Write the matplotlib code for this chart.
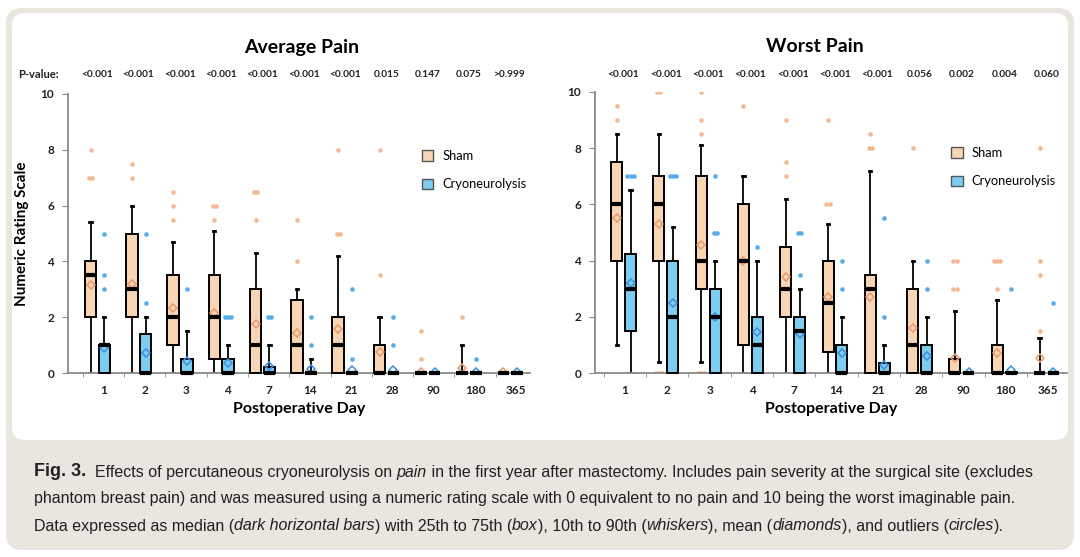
import numpy as np
import matplotlib.pyplot as plt
from matplotlib.patches import FancyBboxPatch, Patch

# =========================
# DATA
# =========================
days = ["1", "2", "3", "4", "7", "14", "21", "28", "90", "180", "365"]

# Average pain - sham
avg_sham_lo = [0, 0, 0, 0, 0, 0, 0, 0, 0, 0, 0]
avg_sham_q1 = [2, 2, 1, 0.5, 0, 0, 0, 0, 0, 0, 0]
avg_sham_med = [3.5, 3, 2, 2, 1, 1, 1, 0, 0, 0, 0]
avg_sham_q3 = [4, 5, 3.5, 3.5, 3, 2.62, 2, 1, 0, 0, 0]
avg_sham_hi = [5.4, 6, 4.7, 5.1, 4.3, 3, 4.2, 2, 0, 1, 0]
avg_sham_mean = [3.15, 3.2, 2.33, 2.15, 1.75, 1.42, 1.56, 0.77, 0.05, 0.18, 0.02]
avg_sham_out = [[8, 7, 7], [7.5, 7], [6.5, 6, 5.5], [6, 6, 5.5], [6.5, 6.5, 5.5],
                [5.5, 4], [8, 5, 5], [8, 3.5], [1.5, 0.5], [2], []]

# Average pain - cryoneurolysis
avg_cryo_lo = [0, 0, 0, 0, 0, 0, 0, 0, 0, 0, 0]
avg_cryo_q1 = [0, 0, 0, 0, 0, 0, 0, 0, 0, 0, 0]
avg_cryo_med = [1, 0, 0, 0, 0, 0, 0, 0, 0, 0, 0]
avg_cryo_q3 = [1, 1.38, 0.5, 0.5, 0.22, 0, 0, 0, 0, 0, 0]
avg_cryo_hi = [2, 2, 1.5, 1, 1, 0.5, 0, 0, 0, 0, 0]
avg_cryo_mean = [0.9, 0.72, 0.42, 0.35, 0.25, 0.15, 0.1, 0.1, 0.02, 0.02, 0.02]
avg_cryo_out = [[5, 3.5, 3], [5, 2.5], [3], [2, 2, 2], [2, 2], [2, 1],
                [3, 0.5], [2, 1], [], [0.5], []]

avg_pvals = ["<0.001", "<0.001", "<0.001", "<0.001", "<0.001", "<0.001",
             "<0.001", "0.015", "0.147", "0.075", ">0.999"]

# Worst pain - sham
worst_sham_lo = [1, 0.4, 0.4, 0, 0, 0, 0, 0, 0, 0, 0]
worst_sham_q1 = [4, 4, 3, 1, 2, 0.75, 0, 0, 0, 0, 0]
worst_sham_med = [6, 6, 4, 4, 3, 2.5, 3, 1, 0, 0, 0]
worst_sham_q3 = [7.5, 7, 7, 6, 4.5, 4, 3.5, 3, 0.5, 1, 0]
worst_sham_hi = [8.5, 8.5, 8.1, 7, 6.2, 5.3, 7.2, 4, 2.2, 2.6, 1.25]
worst_sham_mean = [5.5, 5.3, 4.55, 4.0, 3.4, 2.7, 2.7, 1.6, 0.52, 0.7, 0.55]
worst_sham_out = [[9.5, 9], [10, 10, 0, 0, 0], [10, 9, 8.5, 0, 0, 0], [9.5],
                  [9, 7.5, 7], [9, 6, 6], [8.5, 8, 8], [8], [4, 4, 3, 3],
                  [4, 4, 4, 3], [8, 4, 3.5, 1.5]]

# Worst pain - cryoneurolysis
worst_cryo_lo = [0, 0, 0, 0, 0, 0, 0, 0, 0, 0, 0]
worst_cryo_q1 = [1.5, 0, 0, 0, 0, 0, 0, 0, 0, 0, 0]
worst_cryo_med = [3, 2, 2, 1, 1.5, 0, 0, 0, 0, 0, 0]
worst_cryo_q3 = [4.25, 4, 3, 2, 2, 1, 0.35, 1, 0, 0.03, 0]
worst_cryo_hi = [6.5, 5.2, 4, 4, 3, 2, 1, 2, 0, 0, 0]
worst_cryo_mean = [3.2, 2.5, 2.0, 1.45, 1.4, 0.7, 0.3, 0.6, 0.02, 0.1, 0.05]
worst_cryo_out = [[7, 7, 7], [7, 7, 7], [7, 5, 5], [4.5], [5, 5, 3.5], [4, 3],
                  [5.5, 2], [4, 3], [], [3], [2.5]]

worst_pvals = ["<0.001", "<0.001", "<0.001", "<0.001", "<0.001", "<0.001",
               "<0.001", "0.056", "0.002", "0.004", "0.060"]

# =========================
# STYLE
# =========================
plt.rcParams['font.family'] = ['Lato', 'DejaVu Sans']

SHAM_FILL = '#f8d5b4'
CRYO_FILL = '#7ecdf0'
SHAM_DOT = '#f4b994'
CRYO_DOT = '#57acec'
SHAM_DIA = '#ea9868'
CRYO_DIA = '#3a8ee0'
AXIS_GRAY = '#8a8a8a'

W, H = 1080, 557
fig = plt.figure(figsize=(W / 100, H / 100), dpi=100)

# background frame in pixel coords
bg = fig.add_axes([0, 0, 1, 1], zorder=-10)
bg.set_xlim(0, W)
bg.set_ylim(H, 0)
bg.axis('off')
bg.add_patch(FancyBboxPatch((6, 8), 1068, 542, boxstyle="round,pad=0,rounding_size=16",
                            fc='#e8e6df', ec='none'))
bg.add_patch(FancyBboxPatch((12, 13), 1056, 427, boxstyle="round,pad=0,rounding_size=13",
                            fc='white', ec='none'))


def draw_group(ax, pos, width, lo, q1, med, q3, hi, mean, out, fill, dot, dia):
    stats = [dict(whislo=a, q1=b, med=c, q3=d, whishi=e, mean=f, fliers=[])
             for a, b, c, d, e, f in zip(lo, q1, med, q3, hi, mean)]
    art = ax.bxp(stats, positions=pos, widths=width, capwidths=0.05,
                 patch_artist=True, showmeans=True, showfliers=False, manage_ticks=False,
                 boxprops=dict(facecolor=fill, edgecolor='black', linewidth=1.4),
                 medianprops=dict(color='black', linewidth=3, solid_capstyle='butt'),
                 whiskerprops=dict(color='black', linewidth=1.3),
                 capprops=dict(color='black', linewidth=2),
                 meanprops=dict(marker='D', markerfacecolor='none', markeredgecolor=dia,
                                markersize=4.5, markeredgewidth=1.1))
    for b in art['boxes']:
        b.set_clip_on(False)
        b.set_zorder(3)
    for m in art['medians']:
        m.set_clip_on(False)
        m.set_zorder(5)
    for m in art['means']:
        m.set_zorder(4)
    for w in art['whiskers'] + art['caps']:
        w.set_zorder(2.5)
    # outliers, repeated values placed side by side
    for xi, vals in zip(pos, out):
        for v in sorted(set(vals)):
            n = vals.count(v)
            xs = xi + (np.arange(n) - (n - 1) / 2) * 0.075
            ax.scatter(xs, [v] * n, s=11, color=dot, linewidths=0, zorder=2)


def setup_axes(ax, xlim, pvals, pmid, ptop):
    x = np.arange(len(days))
    ax.set_ylim(0, 10)
    ax.set_xlim(*xlim)
    ax.set_yticks([0, 2, 4, 6, 8, 10])
    ax.set_xticks(x)
    ax.set_xticklabels(days)
    ax.set_xticks(x - 0.5, minor=True)
    ax.tick_params(axis='x', which='major', length=0, pad=9)
    ax.tick_params(axis='x', which='minor', length=3, direction='out', color=AXIS_GRAY)
    ax.tick_params(axis='y', length=4, direction='out', color=AXIS_GRAY, pad=6)
    for lab in ax.get_xticklabels() + ax.get_yticklabels():
        lab.set_fontweight('bold')
        lab.set_fontsize(8.5)
        lab.set_color('#222222')
    for s in ['top', 'right']:
        ax.spines[s].set_visible(False)
    for s in ['left', 'bottom']:
        ax.spines[s].set_color(AXIS_GRAY)
        ax.spines[s].set_linewidth(1.3)
    ax.set_xlabel("Postoperative Day", fontsize=11.5, fontweight='bold', labelpad=4)
    for xi, p in zip(x, pvals):
        ax.text(xi + pmid, ptop, p, ha='center', va='center', fontsize=7.3,
                fontweight='bold', color='#222222', clip_on=False)


# =========================
# LEFT: AVERAGE PAIN
# =========================
axL = fig.add_axes([68 / W, 1 - 373 / H, 462 / W, 279 / H])
xs = np.arange(len(days))
draw_group(axL, xs - 0.315, 0.28, avg_sham_lo, avg_sham_q1, avg_sham_med, avg_sham_q3,
           avg_sham_hi, avg_sham_mean, avg_sham_out, SHAM_FILL, SHAM_DOT, SHAM_DIA)
draw_group(axL, xs + 0.02, 0.28, avg_cryo_lo, avg_cryo_q1, avg_cryo_med, avg_cryo_q3,
           avg_cryo_hi, avg_cryo_mean, avg_cryo_out, CRYO_FILL, CRYO_DOT, CRYO_DIA)
setup_axes(axL, (-0.86, 10.33), avg_pvals, -0.15, 10.7)
axL.set_ylabel("Numeric Rating Scale", fontsize=11, fontweight='bold', labelpad=8)

# =========================
# RIGHT: WORST PAIN
# =========================
axR = fig.add_axes([595 / W, 1 - 373 / H, 472 / W, 281 / H])
draw_group(axR, xs - 0.2, 0.26, worst_sham_lo, worst_sham_q1, worst_sham_med, worst_sham_q3,
           worst_sham_hi, worst_sham_mean, worst_sham_out, SHAM_FILL, SHAM_DOT, SHAM_DIA)
draw_group(axR, xs + 0.13, 0.26, worst_cryo_lo, worst_cryo_q1, worst_cryo_med, worst_cryo_q3,
           worst_cryo_hi, worst_cryo_mean, worst_cryo_out, CRYO_FILL, CRYO_DOT, CRYO_DIA)
setup_axes(axR, (-0.71, 10.45), worst_pvals, -0.035, 10.64)

# legends
handles = [Patch(facecolor=SHAM_FILL, edgecolor='#555555', linewidth=1, label='Sham'),
           Patch(facecolor=CRYO_FILL, edgecolor='#555555', linewidth=1, label='Cryoneurolysis')]
for ax, anchor in [(axL, (0.74, 0.84)), (axR, (0.73, 0.845))]:
    ax.legend(handles=handles, loc='upper left', bbox_to_anchor=anchor, frameon=False,
              handlelength=0.9, handleheight=0.9, labelspacing=1.25, handletextpad=0.7,
              prop=dict(size=9.3))

# titles and p-value label
bg.text(302, 48, "Average Pain", ha='center', va='center', fontsize=14, fontweight='bold')
bg.text(815, 47, "Worst Pain", ha='center', va='center', fontsize=14, fontweight='bold')
bg.text(18, 75, "P-value:", ha='left', va='center', fontsize=8, fontweight='bold', color='#222222')

# =========================
# CAPTION
# =========================
renderer = fig.canvas.get_renderer()
cap_font = ['Liberation Sans', 'DejaVu Sans']


def put_line(x, y, parts):
    for s, style in parts:
        kw = dict(fontsize=11.5, color='#231f20', family=cap_font, va='center', ha='left')
        if style == 'b':
            kw.update(fontweight='bold', fontsize=13)
        if style == 'i':
            kw.update(fontstyle='italic')
        t = bg.text(x, y, s, **kw)
        x = t.get_window_extent(renderer).x1


put_line(34, 472, [("Fig. 3.", 'b'), ("  Effects of percutaneous cryoneurolysis on ", 'n'),
                   ("pain", 'i'),
                   (" in the first year after mastectomy. Includes pain severity at the surgical site (excludes", 'n')])
put_line(34, 499, [("phantom breast pain) and was measured using a numeric rating scale with 0 "
                    "equivalent to no pain and 10 being the worst imaginable pain.", 'n')])
put_line(34, 526, [("Data expressed as median (", 'n'), ("dark horizontal bars", 'i'),
                   (") with 25th to 75th (", 'n'), ("box", 'i'), ("), 10th to 90th (", 'n'),
                   ("whiskers", 'i'), ("), mean (", 'n'), ("diamonds", 'i'),
                   ("), and outliers (", 'n'), ("circles", 'i'), (").", 'n')])

fig.savefig("out.png", dpi=100)
